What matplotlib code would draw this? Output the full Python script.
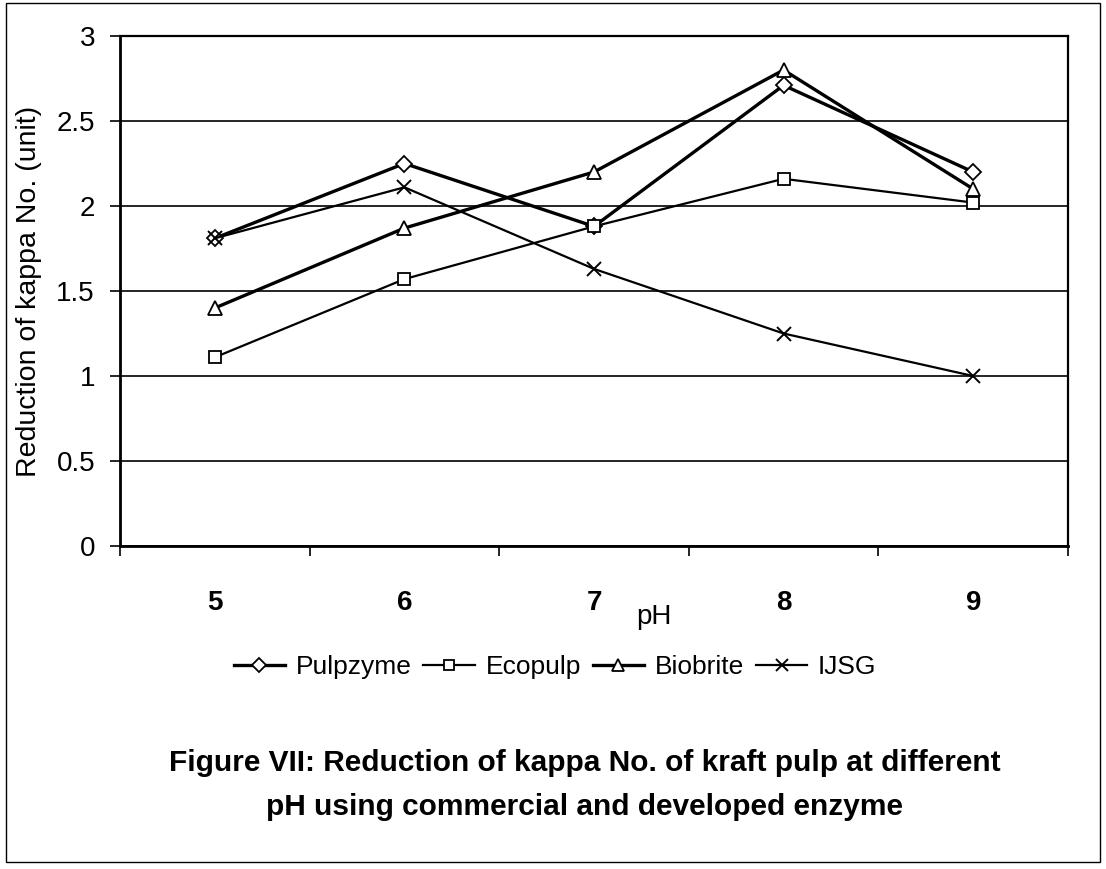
import matplotlib
matplotlib.use('Agg')
import matplotlib.pyplot as plt
from matplotlib.patches import Rectangle

plt.rcParams['font.family'] = ['Liberation Sans', 'DejaVu Sans']

ph = ['5', '6', '7', '8', '9']
pulpzyme = [1.81, 2.25, 1.88, 2.71, 2.20]
ecopulp = [1.11, 1.57, 1.88, 2.16, 2.02]
biobrite = [1.40, 1.87, 2.20, 2.80, 2.10]
ijsg = [1.81, 2.11, 1.63, 1.25, 1.00]

W, H = 1106, 869
fig = plt.figure(figsize=(W / 100, H / 100), dpi=100)
ax = fig.add_axes([120 / W, 1 - 546 / H, (1068 - 120) / W, (546 - 36) / H])

x = list(range(len(ph)))
ax.plot(x, pulpzyme, color='black', lw=2.4, marker='D', ms=8.5, mfc='white', mec='black', mew=1.3, label='Pulpzyme', zorder=4)
ax.plot(x, ecopulp, color='black', lw=1.6, marker='s', ms=9, mfc='white', mec='black', mew=1.3, label='Ecopulp', zorder=4)
ax.plot(x, biobrite, color='black', lw=2.4, marker='^', ms=10, mfc='white', mec='black', mew=1.3, label='Biobrite', zorder=4)
ax.plot(x, ijsg, color='black', lw=1.6, marker='x', ms=10, mec='black', mew=1.4, label='IJSG', zorder=4)

ax.set_xlim(-0.5, len(ph) - 0.5)
ax.set_ylim(0, 3)
ax.set_yticks([0, 0.5, 1, 1.5, 2, 2.5, 3])
ax.set_yticklabels(['0', '0.5', '1', '1.5', '2', '2.5', '3'])
ax.set_xticks(x)
ax.set_xticklabels(ph, fontweight='bold')
ax.set_xticks([i - 0.5 for i in range(len(ph) + 1)], minor=True)
ax.tick_params(axis='x', which='major', length=0, pad=32, labelsize=20)
ax.tick_params(axis='x', which='minor', length=7, width=1.2, direction='out')
ax.tick_params(axis='y', length=7, width=1.2, direction='out', pad=11, labelsize=20)

ax.grid(axis='y', color='black', lw=1.2)
ax.set_axisbelow(True)
for side in ['left', 'bottom']:
    ax.spines[side].set_linewidth(2)
for side in ['top', 'right']:
    ax.spines[side].set_linewidth(1.6)

ax.set_ylabel('Reduction of kappa No. (unit)', fontsize=20.5, labelpad=10)
fig.text(654 / W, 1 - 617 / H, 'pH', fontsize=20, ha='center', va='center')

fig.legend(loc='center', bbox_to_anchor=(555 / W, 1 - 667 / H), ncol=4, frameon=False,
           fontsize=19, handlelength=1.95, handletextpad=0.4, columnspacing=0.45,
           borderaxespad=0, markerscale=0.85)

fig.text(585 / W, 1 - 763 / H, 'Figure VII: Reduction of kappa No. of kraft pulp at different',
         fontsize=21.5, fontweight='bold', ha='center', va='center')
fig.text(585 / W, 1 - 807 / H, 'pH using commercial and developed enzyme',
         fontsize=21.5, fontweight='bold', ha='center', va='center')

fig.patches.append(Rectangle((6 / W, 1 - 862 / H), (1100 - 6) / W, (862 - 3) / H,
                             transform=fig.transFigure, fill=False, ec='black', lw=1))

fig.savefig('out.png', dpi=100)
